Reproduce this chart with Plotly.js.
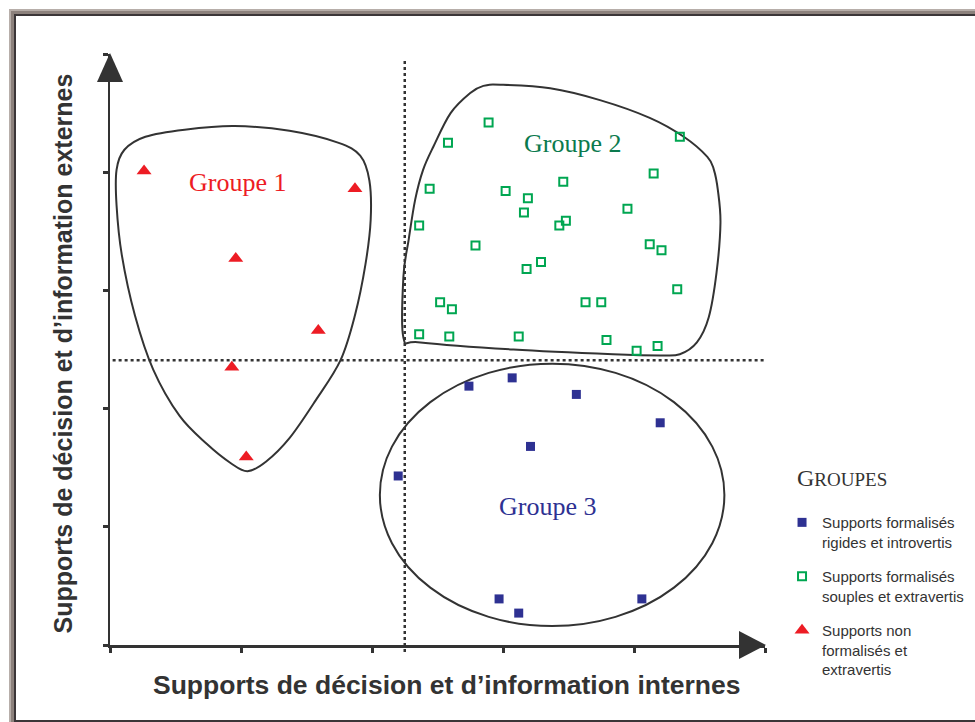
<!DOCTYPE html>
<html>
<head>
<meta charset="utf-8">
<script src="https://cdn.plot.ly/plotly-3.0.1.min.js"></script>
<style>
  body { margin: 0; background: #fff; }
  #wrap { position: relative; width: 975px; height: 722px; overflow: hidden; }
  .edge { position: absolute; box-sizing: border-box; }
  #e1 { left: 9px; top: 9px; right: 0; bottom: -20px; border-top: 2px solid #b7aea9; border-left: 2px solid #b7aea9; }
  #e2 { left: 11px; top: 11px; right: 0; bottom: -20px; border-top: 3px solid #8c817c; border-left: 3px solid #8c817c; }
  #e3 { left: 14px; top: 14px; right: 0; bottom: 0; border-top: 2px solid #3b3638; border-left: 2px solid #3b3638; border-bottom: 2px solid #3b3638; }
  #graph { position: absolute; left: 0; top: 0; width: 975px; height: 722px; }
</style>
</head>
<body>
<div id="wrap">
  <div class="edge" id="e1"></div>
  <div class="edge" id="e2"></div>
  <div class="edge" id="e3"></div>
  <div id="graph"></div>
</div>
<script>
// Groupe 1 - supports non formalisés et extravertis (triangles rouges)
const redX = [0.26, 1.87, 0.96, 1.59, 0.93, 1.04];
const redY = [4.01, 3.86, 3.27, 2.66, 2.35, 1.59];

// Groupe 2 - supports formalisés souples et extravertis (carrés verts)
const greenX = [2.89, 2.58, 4.35, 4.15, 3.46, 2.44, 3.02, 3.19, 3.16, 3.95, 3.48, 3.43, 2.36, 2.79, 4.12,
                4.21, 3.29, 3.18, 4.33, 2.52, 2.61, 3.63, 3.75, 2.36, 2.59, 3.12, 3.79, 4.18, 4.02];
const greenY = [4.42, 4.25, 4.30, 3.99, 3.92, 3.86, 3.84, 3.78, 3.66, 3.69, 3.59, 3.55, 3.55, 3.38, 3.39,
                3.34, 3.24, 3.18, 3.01, 2.90, 2.84, 2.90, 2.90, 2.63, 2.61, 2.61, 2.58, 2.53, 2.49];

// Groupe 3 - supports formalisés rigides et introvertis (carrés bleus)
const blueX = [2.74, 3.07, 3.56, 4.20, 3.21, 2.20, 2.97, 3.12, 4.06];
const blueY = [2.19, 2.26, 2.12, 1.88, 1.68, 1.43, 0.39, 0.27, 0.39];

const legendNames = [
    'Supports formalisés<br>rigides et introvertis',
    'Supports formalisés<br>souples et extravertis',
    'Supports non<br>formalisés et<br>extravertis'
];
const groupLabels = ['Groupe 1', 'Groupe 2', 'Groupe 3'];
const groupLabelX = [0.97, 3.53, 3.34];
const groupLabelY = [3.91, 4.24, 1.17];

const xTitle = 'Supports de décision et d’information internes';
const yTitle = 'Supports de décision et d’information externes';

// contours dessinés à main levée
const outline1X = [0.95, 1.37, 1.74, 1.91, 1.98, 1.99, 1.95, 1.87, 1.76, 1.57, 1.37, 1.19,
                   1.05, 0.92, 0.74, 0.53, 0.33, 0.19, 0.09, 0.05, 0.05, 0.11, 0.27, 0.57];
const outline1Y = [4.39, 4.35, 4.25, 4.14, 3.93, 3.60, 3.22, 2.79, 2.41, 2.07, 1.75, 1.55,
                   1.47, 1.54, 1.70, 1.94, 2.33, 2.79, 3.30, 3.72, 4.02, 4.19, 4.30, 4.36];
const outline2X = [2.24, 2.24, 2.28, 2.33, 2.39, 2.47, 2.60, 2.75, 2.85, 2.98, 3.36, 3.74, 4.12,
                   4.38, 4.56, 4.61, 4.64, 4.66, 4.63, 4.57, 4.48, 4.35, 4.20, 3.84, 3.08, 2.37];
const outline2Y = [2.60, 3.12, 3.43, 3.77, 4.02, 4.22, 4.50, 4.67, 4.73, 4.74, 4.71, 4.61, 4.46,
                   4.30, 4.13, 4.02, 3.85, 3.57, 3.15, 2.77, 2.56, 2.46, 2.45, 2.46, 2.50, 2.56];
const ellipse3 = { x0: 2.06, x1: 4.69, y0: 0.16, y1: 2.38 };

const splitX = 2.25;
const splitY = 2.41;

// Catmull-Rom fermé -> path SVG en coordonnées de données
function closedPath(xs, ys) {
    let n = xs.length;
    let d = 'M ' + xs[0] + ',' + ys[0];
    for (let i = 0; i < n; i++) {
        let p0 = (i - 1 + n) % n, p1 = i, p2 = (i + 1) % n, p3 = (i + 2) % n;
        let c1x = xs[p1] + (xs[p2] - xs[p0]) / 6;
        let c1y = ys[p1] + (ys[p2] - ys[p0]) / 6;
        let c2x = xs[p2] - (xs[p3] - xs[p1]) / 6;
        let c2y = ys[p2] - (ys[p3] - ys[p1]) / 6;
        d += ' C ' + c1x + ',' + c1y + ' ' + c2x + ',' + c2y + ' ' + xs[p2] + ',' + ys[p2];
    }
    return d + ' Z';
}

let traces = [
    {
        x: blueX, y: blueY, mode: 'markers', type: 'scatter',
        name: legendNames[0], legendgroup: 'g3',
        marker: { symbol: 'square', size: 9, color: '#2e3192' },
        cliponaxis: false
    },
    {
        x: greenX, y: greenY, mode: 'markers', type: 'scatter',
        name: legendNames[1], legendgroup: 'g2',
        marker: { symbol: 'square-open', size: 8, color: '#00a651', line: { width: 2, color: '#00a651' } },
        cliponaxis: false
    },
    {
        x: redX, y: redY, mode: 'markers', type: 'scatter',
        name: legendNames[2], legendgroup: 'g1',
        marker: { symbol: 'triangle-up', size: 13, color: '#ed1c24' },
        cliponaxis: false
    }
];

const outlineLine = { color: '#333', width: 2 };
const dotLine = { color: '#333', width: 2.5, dash: 'dot' };

let shapes = [
    { type: 'line', xref: 'x', yref: 'paper', x0: splitX, x1: splitX, y0: -0.012, y1: 0.99, line: dotLine, layer: 'below' },
    { type: 'line', xref: 'x', yref: 'y', x0: 0.02, x1: 5, y0: splitY, y1: splitY, line: dotLine, layer: 'below' },
    { type: 'path', xref: 'x', yref: 'y', path: closedPath(outline1X, outline1Y), line: outlineLine, layer: 'below' },
    { type: 'path', xref: 'x', yref: 'y', path: closedPath(outline2X, outline2Y), line: outlineLine, layer: 'below' },
    { type: 'circle', xref: 'x', yref: 'y', x0: ellipse3.x0, x1: ellipse3.x1, y0: ellipse3.y0, y1: ellipse3.y1, line: outlineLine, layer: 'below' },
    // flèches des axes
    { type: 'path', xref: 'paper', yref: 'paper', xsizemode: 'pixel', ysizemode: 'pixel', xanchor: 0, yanchor: 1,
      path: 'M -13,-28 L 13,-28 L 0,1 Z', fillcolor: '#333', line: { width: 0 } },
    { type: 'path', xref: 'paper', yref: 'paper', xsizemode: 'pixel', ysizemode: 'pixel', xanchor: 1, yanchor: 0,
      path: 'M -26,14 L -26,-14 L 1,0 Z', fillcolor: '#333', line: { width: 0 } }
];

const labelColors = ['#ed1c24', '#0b7a4e', '#2e3192'];
let annotations = groupLabels.map((t, i) => ({
    x: groupLabelX[i], y: groupLabelY[i], xref: 'x', yref: 'y', text: t, showarrow: false,
    font: { family: 'Liberation Serif, Times New Roman, serif', size: 26, color: labelColors[i] }
}));

const titleFont = { family: 'Liberation Sans, Arial, sans-serif', color: '#333', weight: 'bold' };
annotations.push({
    x: 0.513, y: -0.068, xref: 'paper', yref: 'paper', xanchor: 'center', yanchor: 'middle',
    text: xTitle, showarrow: false, font: Object.assign({ size: 26.5 }, titleFont)
});
annotations.push({
    x: -0.072, y: 0.493, xref: 'paper', yref: 'paper', xanchor: 'center', yanchor: 'middle',
    text: yTitle, textangle: -90, showarrow: false, font: Object.assign({ size: 25 }, titleFont)
});
annotations.push({
    x: 1.046, y: 0.283, xref: 'paper', yref: 'paper', xanchor: 'left', yanchor: 'middle',
    text: 'G<span style="font-size:19px">ROUPES</span>', showarrow: false,
    font: { family: 'Liberation Serif, Times New Roman, serif', size: 24, color: '#333' }
});

const axisCommon = {
    range: [0, 5], showgrid: false, zeroline: false, showline: true,
    linecolor: '#333', linewidth: 2.5, ticks: 'outside', ticklen: 5, tickwidth: 3, tickcolor: '#333',
    tick0: 0, dtick: 1, showticklabels: false, fixedrange: true
};

let layout = {
    width: 975, height: 722, autosize: false,
    margin: { l: 110, r: 210, t: 54, b: 77, pad: 0, autoexpand: false },
    paper_bgcolor: 'rgba(0,0,0,0)', plot_bgcolor: 'rgba(0,0,0,0)',
    xaxis: axisCommon,
    yaxis: Object.assign({}, axisCommon),
    showlegend: true,
    legend: {
        x: 1.026, xanchor: 'left', y: 0.235, yanchor: 'top',
        valign: 'top', tracegroupgap: 12, bgcolor: 'rgba(0,0,0,0)',
        font: { family: 'Liberation Sans, Arial, sans-serif', size: 15, color: '#333' }
    },
    hovermode: false,
    shapes: shapes,
    annotations: annotations
};

Plotly.newPlot('graph', traces, layout, { displayModeBar: false, staticPlot: true });
</script>
</body>
</html>
